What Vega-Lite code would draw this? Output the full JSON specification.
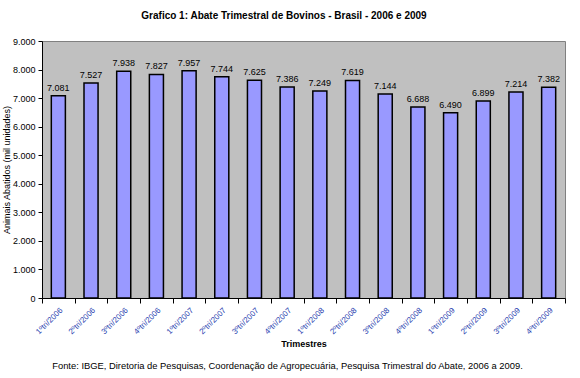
{
  "$schema": "https://vega.github.io/schema/vega-lite/v6.json",
  "background": "white",
  "padding": {"left": 1, "top": 10, "right": 5, "bottom": 5},
  "config": {
    "locale": {"number": {"decimal": ",", "thousands": ".", "grouping": [3], "currency": ["R$", ""]}},
    "font": "Liberation Sans",
    "view": {"fill": "#C0C0C0", "stroke": "#808080"},
    "concat": {"spacing": 11}
  },
  "title": {"text": "Grafico 1: Abate Trimestral de Bovinos - Brasil - 2006 e 2009", "fontSize": 10, "fontWeight": "bold", "offset": 16, "anchor": "middle", "color": "black"},
  "vconcat": [
    {
      "width": 523,
      "height": 257,
      "data": {"values": [
        {"trimestre": "1ºtri/2006", "valor": 7081},
        {"trimestre": "2ºtri/2006", "valor": 7527},
        {"trimestre": "3ºtri/2006", "valor": 7938},
        {"trimestre": "4ºtri/2006", "valor": 7827},
        {"trimestre": "1ºtri/2007", "valor": 7957},
        {"trimestre": "2ºtri/2007", "valor": 7744},
        {"trimestre": "3ºtri/2007", "valor": 7625},
        {"trimestre": "4ºtri/2007", "valor": 7386},
        {"trimestre": "1ºtri/2008", "valor": 7249},
        {"trimestre": "2ºtri/2008", "valor": 7619},
        {"trimestre": "3ºtri/2008", "valor": 7144},
        {"trimestre": "4ºtri/2008", "valor": 6688},
        {"trimestre": "1ºtri/2009", "valor": 6490},
        {"trimestre": "2ºtri/2009", "valor": 6899},
        {"trimestre": "3ºtri/2009", "valor": 7214},
        {"trimestre": "4ºtri/2009", "valor": 7382}
      ]},
      "encoding": {
        "x": {
          "field": "trimestre", "type": "ordinal", "sort": null,
          "scale": {"paddingInner": 0, "paddingOuter": 0},
          "axis": {
            "title": "Trimestres", "titleFontSize": 9, "titleFontWeight": "bold", "titleColor": "black", "titlePadding": 4,
            "labelAngle": -45, "labelFontSize": 8, "labelColor": "#2A3FB0", "labelPadding": 3,
            "tickBand": "extent", "tickColor": "black", "tickSize": 5, "domainColor": "black"
          }
        },
        "y": {
          "field": "valor", "type": "quantitative",
          "scale": {"domain": [0, 9000]},
          "axis": {
            "title": "Animais Abatidos (mil unidades)", "titleFontSize": 9, "titleFontWeight": "normal", "titleColor": "black", "titlePadding": 1,
            "values": [0, 1000, 2000, 3000, 4000, 5000, 6000, 7000, 8000, 9000], "format": ",d",
            "labelFontSize": 9, "labelColor": "black", "labelPadding": 3,
            "grid": false, "tickColor": "black", "tickSize": 4, "domainColor": "black"
          }
        }
      },
      "layer": [
        {"mark": {"type": "bar", "width": {"band": 0.43}, "fill": "#9999FF", "stroke": "black", "strokeWidth": 1.5}},
        {"mark": {"type": "text", "baseline": "bottom", "dy": -3, "fontSize": 9, "color": "black"},
         "encoding": {"text": {"field": "valor", "type": "quantitative", "format": ",d"}}}
      ]
    },
    {
      "width": 523,
      "height": 8,
      "view": {"fill": null, "stroke": null},
      "data": {"values": [{"fonte": "Fonte: IBGE, Diretoria de Pesquisas, Coordenação de Agropecuária, Pesquisa Trimestral do Abate,  2006 a 2009."}]},
      "mark": {"type": "text", "fontSize": 9.4, "dx": -16, "color": "black"},
      "encoding": {"text": {"field": "fonte", "type": "nominal"}}
    }
  ]
}
